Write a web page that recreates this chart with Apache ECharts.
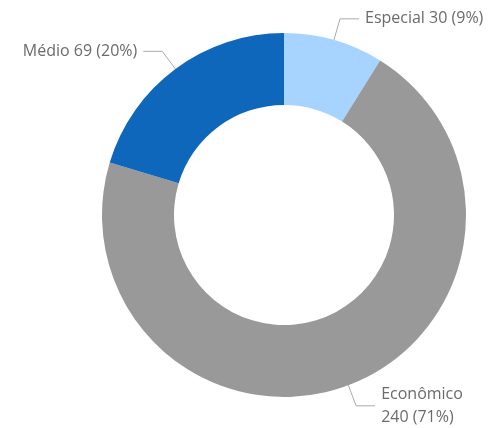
<!DOCTYPE html>
<html lang="pt">
<head>
    <meta charset="utf-8">
    <title>Distribuição por categoria</title>
    <script src="https://cdn.jsdelivr.net/npm/echarts@6/dist/echarts.min.js"></script>
    <style>
        html, body { margin: 0; padding: 0; background: #fff; }
        #chart { width: 490px; height: 428px; }
    </style>
</head>
<body>
    <div id="chart"></div>
    <script>
        // data
        var categories = ['Especial', 'Econômico', 'Médio'];
        var values = [30, 240, 69];
        var colors = ['#A6D3FF', '#999999', '#0F67BB'];
        // labels that wrap onto two lines
        var wrapped = ['Econômico'];

        var seriesData = categories.map(function (name, i) {
            var item = { name: name, value: values[i], itemStyle: { color: colors[i] } };
            if (wrapped.indexOf(name) >= 0) {
                item.label = { formatter: '{b}\n{c} ({d}%)' };
            }
            return item;
        });

        var myChart = echarts.init(document.getElementById('chart'));
        myChart.setOption({
            animation: false,
            series: [{
                type: 'pie',
                center: [284, 215],
                radius: [110, 182],
                startAngle: 90,
                clockwise: true,
                percentPrecision: 0,
                avoidLabelOverlap: false,
                label: {
                    show: true,
                    formatter: '{b} {c} ({d}%)',
                    color: '#6b6b6b',
                    fontFamily: 'Open Sans',
                    fontSize: 16,
                    lineHeight: 23,
                    distanceToLabelLine: 6
                },
                labelLine: {
                    show: true,
                    length: 22,
                    length2: 19,
                    lineStyle: { color: '#aaaaaa', width: 1 }
                },
                emphasis: { disabled: true },
                data: seriesData
            }]
        });
    </script>
</body>
</html>
